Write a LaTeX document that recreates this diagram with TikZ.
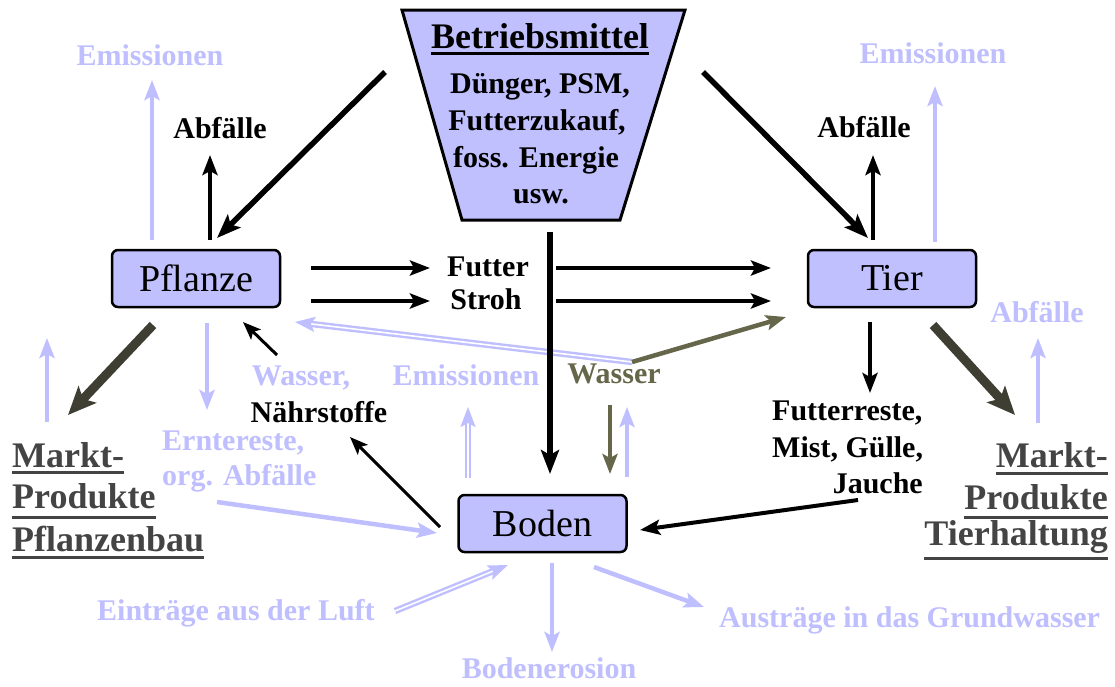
\documentclass[tikz,border=0pt]{standalone}
\usepackage{fontspec}
\setmainfont{Liberation Serif}
\newfontfamily\timesfam{Liberation Serif}
\usetikzlibrary{arrows.meta}

\definecolor{boxfill}{HTML}{C0C0FF}
\definecolor{pale}{HTML}{BFBFFF}
\definecolor{wassercol}{HTML}{66664A}
\definecolor{marktgrau}{HTML}{444444}
\definecolor{pfeilgrau}{HTML}{3E3E32}

% underline: #1 thickness, #2 distance of its lower edge below the baseline, #3 text
\newsavebox\ulbox
\newcommand\ulx[3]{\sbox\ulbox{#3}\rlap{\rule[-#2]{\wd\ulbox}{#1}}\usebox\ulbox}

\begin{document}
\begin{tikzpicture}[x=1pt,y=-1pt,
  box/.style={draw, line width=2.5pt, rounded corners=6pt, fill=boxfill,
    minimum width=168pt, minimum height=57pt, inner sep=0pt,
    font=\timesfam\fontsize{38}{40}\selectfont},
  lbl/.style={font=\timesfam\bfseries\fontsize{30}{32}\selectfont, inner sep=0pt, anchor=base},
  palelbl/.style={lbl, text=pale},
  markt/.style={font=\timesfam\bfseries\fontsize{36}{40}\selectfont, text=marktgrau, inner sep=0pt},
  bigarrow/.style={draw=black, line width=5.5pt, -{Stealth[length=24pt,width=18pt,inset=5pt]}},
  midarrow/.style={draw=black, line width=4pt, -{Stealth[length=20pt,width=15pt,inset=4pt]}},
  thinarrow/.style={draw=black, line width=3pt, -{Stealth[length=18pt,width=14pt,inset=4pt]}},
  palearrow/.style={draw=pale, line width=4.5pt, -{Stealth[length=20pt,width=15pt,inset=4pt]}},
  palepipe/.style={draw=pale, line width=2.4pt, double=white, double distance=1.6pt,
    -{Stealth[length=20pt,width=15pt,inset=4pt]}},
  wasserarrow/.style={draw=wassercol, line width=4.5pt, -{Stealth[length=20pt,width=15pt,inset=4pt]}},
  marktarrow/.style={draw=pfeilgrau, line width=9pt, -{Stealth[length=28pt,width=24pt,inset=6pt]}},
]
\fill[white] (0,0) rectangle (1115,686);
\useasboundingbox (0,0) rectangle (1115,686);

% --- inputs (funnel) ---
\coordinate (trTL) at (402,10);
\coordinate (trTR) at (685,10);
\coordinate (trBR) at (620,220);
\coordinate (trBL) at (462,220);
\draw[fill=boxfill, line width=3pt, line join=miter] (trTL) -- (trTR) -- (trBR) -- (trBL) -- cycle;
\node[font=\timesfam\bfseries\fontsize{36}{40}\selectfont, inner sep=0pt, anchor=base] (mittel) at (540,48)
  {\ulx{2.5pt}{6.5pt}{Betriebsmittel}};
\node[lbl] (mittelA) at (540,93) {Dünger, PSM,};
\node[lbl] (mittelB) at (537,130) {Futterzukauf,};
\node[lbl] (mittelC) at (536,167) {foss. Energie};
\node[lbl] (mittelD) at (541,203) {usw.};

% --- main boxes ---
\node[box] (pflanze) at (196,278.5) {Pflanze};
\node[box] (tier) at (892,278.5) {Tier};
\node[box] (boden) at (542.5,523.5) {Boden};

% --- black labels ---
\node[lbl] (abfL) at (220,138) {Abfälle};
\node[lbl] (abfR) at (864,137) {Abfälle};
\node[lbl] (futter) at (488,276) {Futter};
\node[lbl] (stroh) at (486,309) {Stroh};
\node[lbl] (naehr) at (319,422) {Nährstoffe};
\node[lbl, anchor=base west] (reste1) at (772,420) {Futterreste,};
\node[lbl, anchor=base west] (reste2) at (772,457) {Mist, Gülle,};
\node[lbl, anchor=base east] (reste3) at (923,493) {Jauche};
\node[lbl, text=wassercol] (wasserM) at (614,383) {Wasser};

% --- pale labels ---
\node[palelbl] (emisL) at (150,65) {Emissionen};
\node[palelbl] (emisR) at (933,63) {Emissionen};
\node[palelbl] (abfR2) at (1037,322) {Abfälle};
\node[palelbl] (wasserL) at (301,385) {Wasser,};
\node[palelbl] (emisM) at (466,385) {Emissionen};
\node[palelbl, anchor=base west] (ernte1) at (162,450) {Erntereste,};
\node[palelbl, anchor=base west] (ernte2) at (162,485) {org. Abfälle};
\node[palelbl, anchor=base west] (luft) at (97,620) {Einträge aus der Luft};
\node[palelbl] (erosion) at (549,678) {Bodenerosion};
\node[palelbl, anchor=base west] (grundw) at (719,627) {Austräge in das Grundwasser};

% --- market products ---
\node[markt, anchor=base west] (mpA) at (12,467) {\ulx{3pt}{6.5pt}{Markt-}};
\node[markt, anchor=base west] (mpB) at (12,508) {\ulx{3pt}{10.5pt}{Produkte}};
\node[markt, anchor=base west] (mpC) at (12,551) {\ulx{3pt}{7.5pt}{Pflanzenbau}};
\node[markt, anchor=base east] (mtA) at (1108,467) {\ulx{3pt}{7.5pt}{Markt-}};
\node[markt, anchor=base east] (mtB) at (1108,509) {\ulx{3pt}{9.5pt}{Produkte}};
\node[markt, anchor=base east] (mtC) at (1108,545) {\ulx{3pt}{14.5pt}{Tierhaltung}};

% --- connector end points ---
\coordinate (bmL) at (385,72);    \coordinate (pflIn) at (217,238);
\coordinate (bmR) at (703,72);    \coordinate (tierIn) at (868,238);
\coordinate (bmD) at (550,232);   \coordinate (bodenIn) at (550,474);
\coordinate (fA1) at (311,268);   \coordinate (fA2) at (430,268);
\coordinate (fB1) at (311,301);   \coordinate (fB2) at (430,301);
\coordinate (fC1) at (556,268);   \coordinate (fC2) at (771,268);
\coordinate (fD1) at (556,301);   \coordinate (fD2) at (771,301);
\coordinate (pflTop) at (210,240); \coordinate (abfLpt) at (210,155);
\coordinate (tierTop) at (873,240); \coordinate (abfRpt) at (873,155);
\coordinate (tierBot) at (870,322); \coordinate (restePt) at (870,393);
\coordinate (nsA) at (277,355);   \coordinate (nsB) at (243,322);
\coordinate (bodenNW) at (440,527); \coordinate (naehrPt) at (350,437);
\coordinate (jauchePt) at (858,500); \coordinate (bodenE) at (640,530);
\coordinate (emL1) at (152,240);  \coordinate (emL2) at (152,80);
\coordinate (emR1) at (935,242);  \coordinate (emR2) at (935,86);
\coordinate (pflBot) at (207,323); \coordinate (erntePt) at (207,410);
\coordinate (mpUp1) at (47,422);  \coordinate (mpUp2) at (47,338);
\coordinate (mtUp1) at (1038,423); \coordinate (mtUp2) at (1038,338);
\coordinate (ernteFrom) at (217,502); \coordinate (bodenW) at (437,533);
\coordinate (bodenUp1) at (627,477); \coordinate (bodenUp2) at (627,407);
\coordinate (emM1) at (468,478);  \coordinate (emM2) at (468,407);
\coordinate (wknick) at (632,362); \coordinate (wPfl) at (295,322);
\coordinate (wTier) at (786,317);
\coordinate (wD1) at (610,405);   \coordinate (wD2) at (610,474);
\coordinate (luftPt) at (395,611); \coordinate (bodenSW) at (508,565);
\coordinate (bodenS) at (552,563); \coordinate (erosionPt) at (552,652);
\coordinate (bodenSE) at (594,567); \coordinate (grundwPt) at (704,607);
\coordinate (pflSW) at (153,325); \coordinate (mpPt) at (68,415);
\coordinate (tierSE) at (933,325); \coordinate (mtPt) at (1015,415);

% --- pale flows ---
\draw[palearrow] (emL1) -- (emL2);
\draw[palearrow] (emR1) -- (emR2);
\draw[palearrow] (pflBot) -- (erntePt);
\draw[palearrow] (mpUp1) -- (mpUp2);
\draw[palearrow] (mtUp1) -- (mtUp2);
\draw[palearrow] (ernteFrom) -- (bodenW);
\draw[palearrow] (bodenUp1) -- (bodenUp2);
\draw[palearrow] (bodenS) -- (erosionPt);
\draw[palearrow] (bodenSE) -- (grundwPt);
\draw[palepipe] (emM1) -- (emM2);
\draw[palepipe] (wknick) -- (wPfl);
\draw[palepipe] (luftPt) -- (bodenSW);

% --- water flows ---
\draw[wasserarrow] (wknick) -- (wTier);
\draw[wasserarrow] (wD1) -- (wD2);

% --- market product flows ---
\draw[marktarrow] (pflSW) -- (mpPt);
\draw[marktarrow] (tierSE) -- (mtPt);

% --- black flows ---
\draw[bigarrow] (bmL) -- (pflIn);
\draw[bigarrow] (bmR) -- (tierIn);
\draw[bigarrow] (bmD) -- (bodenIn);
\draw[midarrow] (fA1) -- (fA2);
\draw[midarrow] (fB1) -- (fB2);
\draw[midarrow] (fC1) -- (fC2);
\draw[midarrow] (fD1) -- (fD2);
\draw[midarrow] (pflTop) -- (abfLpt);
\draw[midarrow] (tierTop) -- (abfRpt);
\draw[midarrow] (tierBot) -- (restePt);
\draw[midarrow] (jauchePt) -- (bodenE);
\draw[thinarrow] (nsA) -- (nsB);
\draw[thinarrow] (bodenNW) -- (naehrPt);
\end{tikzpicture}
\end{document}
